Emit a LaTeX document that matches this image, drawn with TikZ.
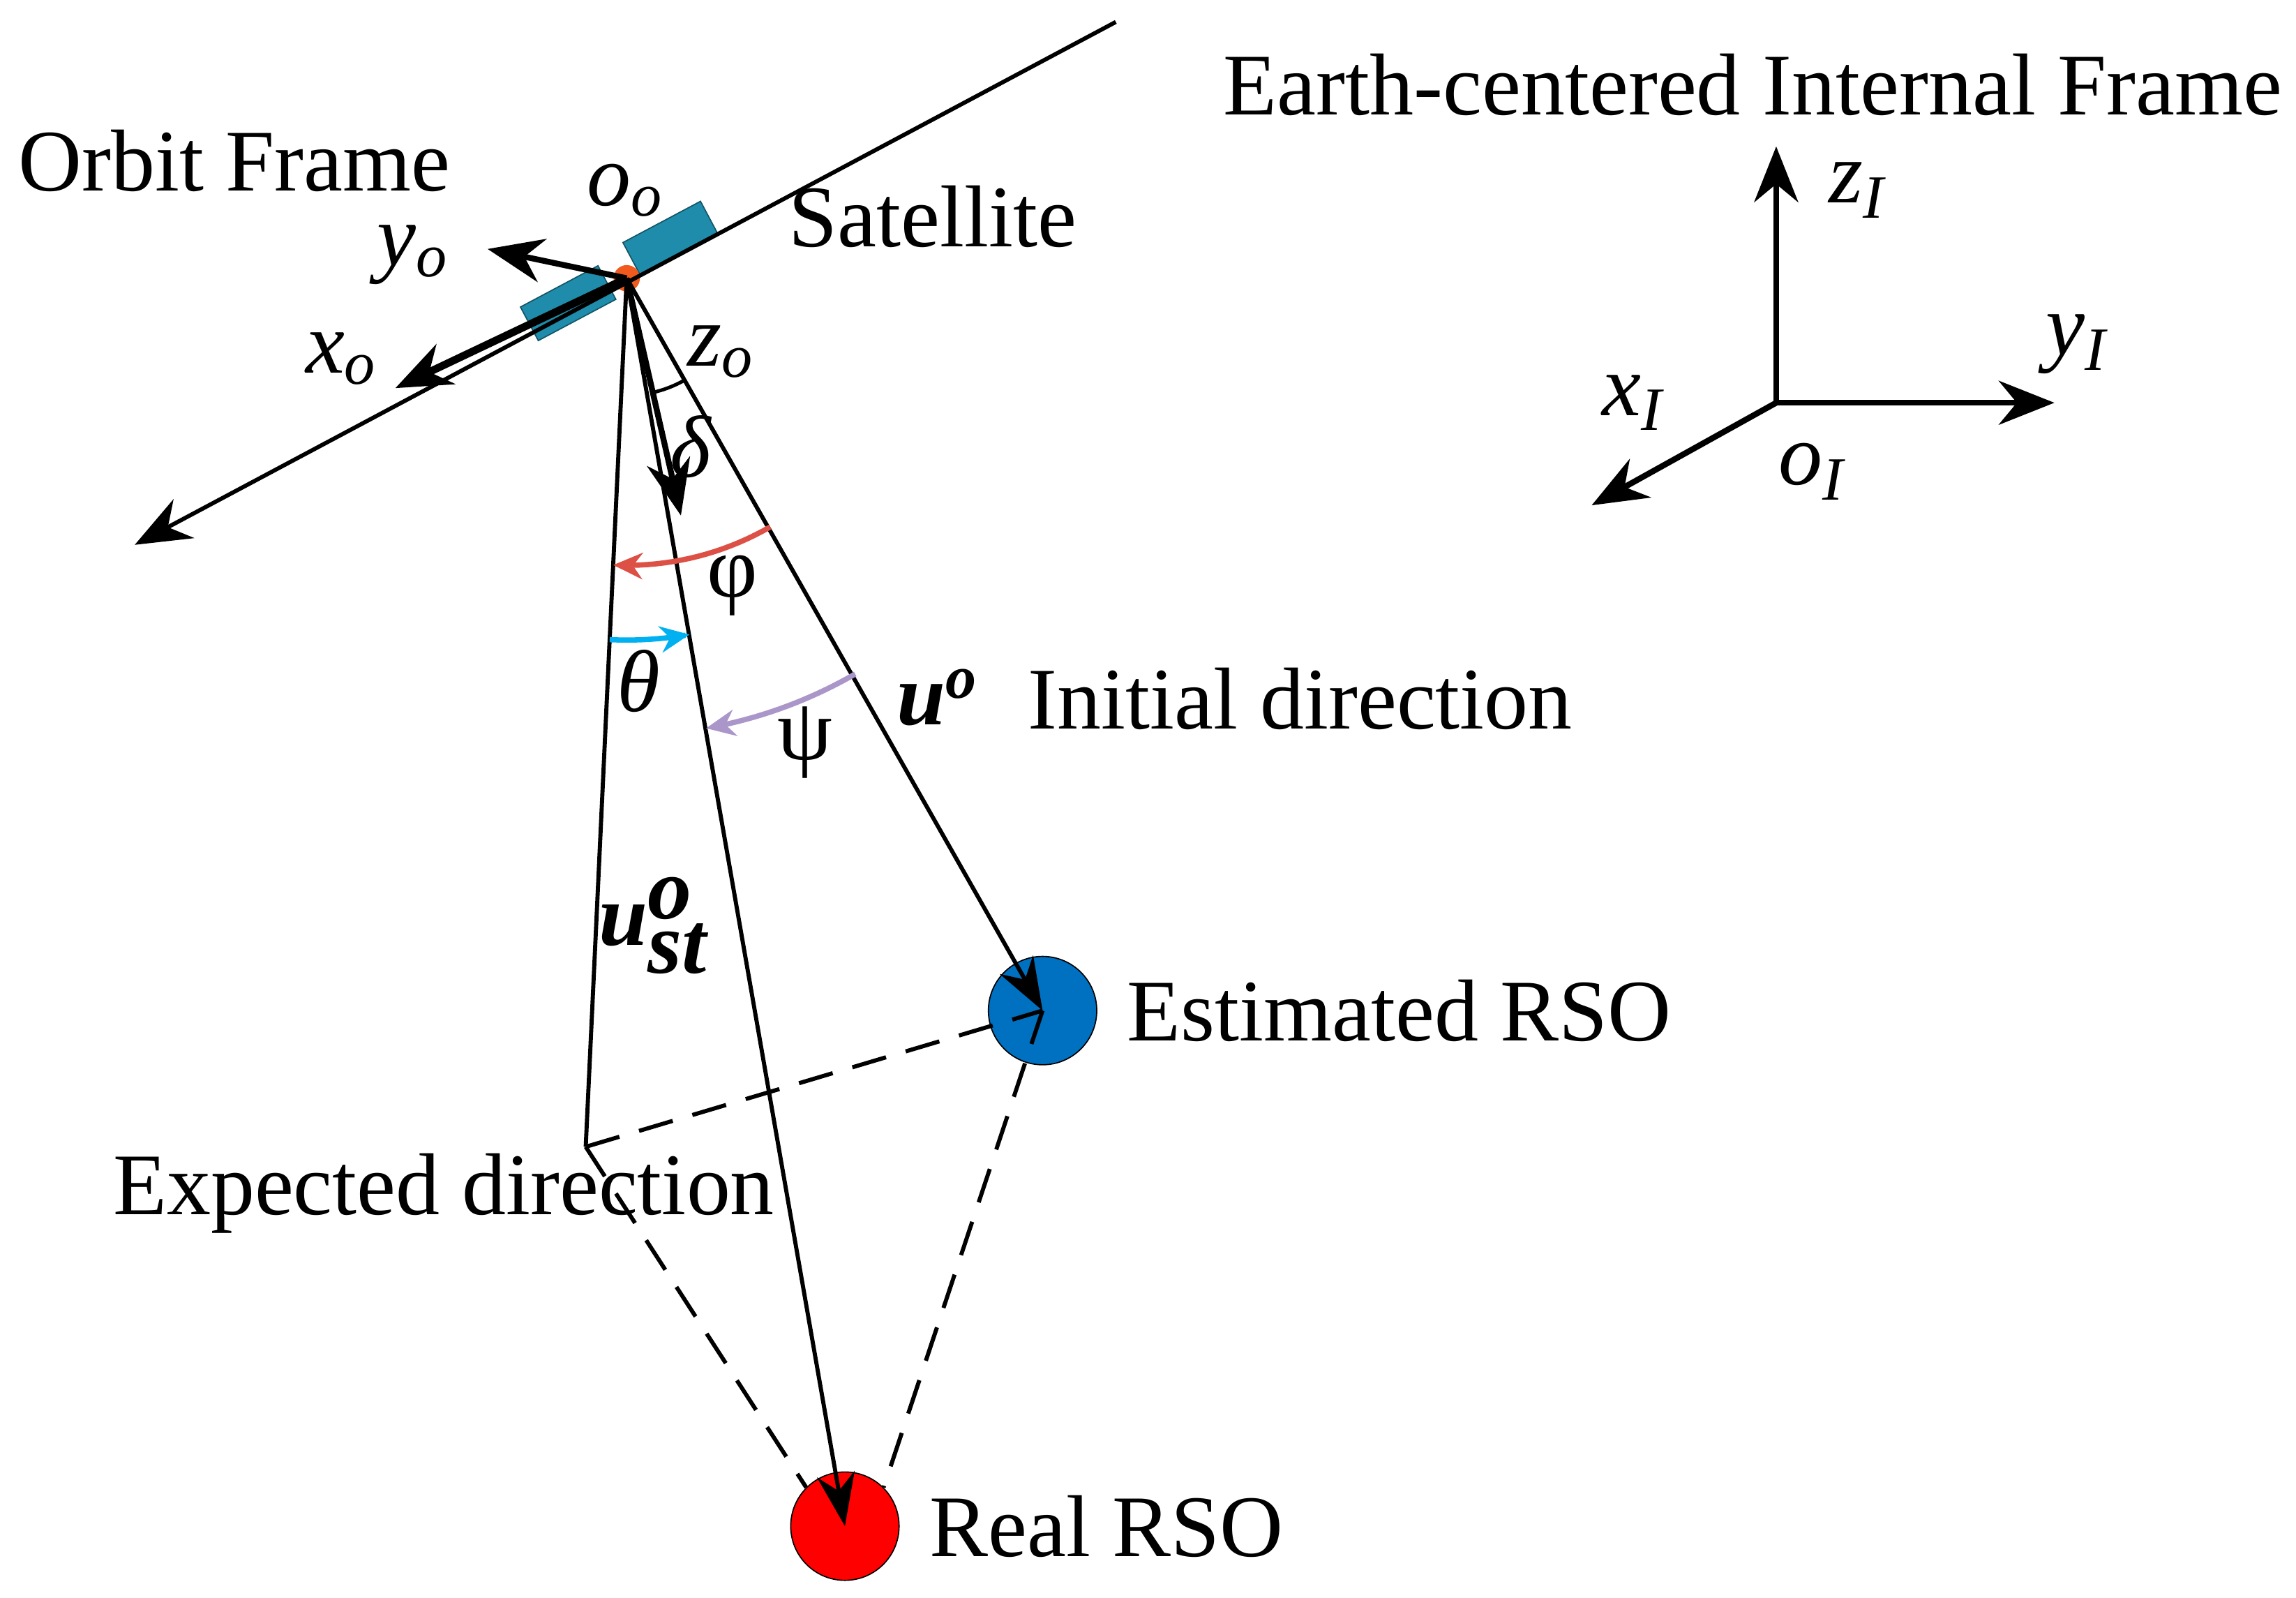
\documentclass[tikz,border=0pt]{standalone}
\usepackage{fontspec}
\setmainfont{Liberation Serif}
\usetikzlibrary{arrows.meta,positioning}
\definecolor{Panel}{RGB}{30,140,170}
\definecolor{Body}{RGB}{240,90,30}
\definecolor{EstBlue}{RGB}{0,112,192}
\definecolor{RealRed}{RGB}{255,0,0}
\definecolor{PhiRed}{RGB}{220,80,70}
\definecolor{ThetaCyan}{RGB}{0,176,240}
\definecolor{PsiPurple}{RGB}{170,150,200}
\newcommand{\bi}[1]{\textbf{\textit{#1}}}
\tikzset{
    txt/.style={font=\fontsize{30}{32}\selectfont, inner sep=0},
    sym/.style={font=\fontsize{30}{32}\selectfont\itshape, inner sep=0},
    axis/.style={draw, line width=2pt, -{Stealth[length=19pt,width=15pt]}},
    ray/.style={draw, line width=1.4pt},
    dashed line/.style={draw, line width=1.4pt, dash pattern=on 12pt off 7pt},
    ang/.style={line width=1.8pt, -{Stealth[length=10pt,width=9pt]}},
    rso/.style={circle, draw=black, thin, minimum size=37pt, inner sep=0}
}
\begin{document}
\begin{tikzpicture}[x=0.5pt,y=-0.5pt]
    \useasboundingbox (0,0) rectangle (1568,1091);
    % satellite
    \coordinate (O) at (428,190);
    \node (panelL)[fill=Panel, draw=Panel!60!black, minimum width=30pt, minimum height=13pt, inner sep=0, rotate=28] at (388,207) {};
    \node (panelR)[fill=Panel, draw=Panel!60!black, minimum width=30pt, minimum height=13pt, inner sep=0, rotate=28] at (458,163) {};
    \node (body)[circle, fill=Body, minimum size=9pt, inner sep=0] at (O) {};

    % orbit line
    \coordinate (orbitA) at (762,15);
    \coordinate (orbitB) at (92,372);
    \draw[axis,line width=1.4pt] (orbitA) -- (orbitB);

    % orbit frame
    \coordinate (xo) at (270,265);
    \coordinate (yo) at (333,170);
    \coordinate (zo) at (465,352);
    \draw[axis,line width=2.6pt] (O) -- (xo);
    \draw[axis] (O) -- (yo);
    \draw[axis] (O) -- (zo);

    % directions
    \node (est)[rso, fill=EstBlue] at (712,690) {};
    \node (real)[rso, fill=RealRed] at (577,1042) {};
    \coordinate (expd) at (400,783);
    \draw[ray,-{Stealth[length=18pt,width=13pt]}] (O) -- (est.center);
    \draw[ray,-{Stealth[length=18pt,width=13pt]}] (O) -- (real.center);
    \draw[ray] (O) -- (expd);
    \draw[dashed line] (expd) -- (est.center);
    \draw[dashed line] (expd) -- (real.north west);
    \draw[dashed line] (est.center) -- (real.north east);

    % angles
    \draw[line width=1.2pt] plot[domain=60:77, samples=10] ({428+80*cos(\x)},{190+80*sin(\x)});
    \draw[ang, PhiRed] plot[domain=60:92.7, samples=20] ({428+196*cos(\x)},{190+196*sin(\x)});
    \draw[ang, ThetaCyan] plot[domain=92.7:80, samples=20] ({428+247*cos(\x)},{190+247*sin(\x)});
    \draw[ang, PsiPurple] plot[domain=60:80, samples=20] ({428+312*cos(\x)},{190+312*sin(\x)});

    % labels
    \node (lorbit)[txt] at (160,110) {Orbit Frame};
    \node (lsat)[txt] at (637,148) {Satellite};
    \node (linit)[txt] at (888,477) {Initial direction};
    \node (lest)[txt, right=10pt of est] {Estimated RSO};
    \node (lreal)[txt, right=10pt of real] {Real RSO};
    \node (lexp)[txt] at (303,815) {Expected direction};
    \node (leci)[txt] at (1197,58) {Earth-centered Internal Frame};
    \node (loo)[sym] at (427,130) {o\textsubscript{o}};
    \node (lxo)[sym] at (233,245) {x\textsubscript{o}};
    \node (lyo)[sym] at (282,174) {y\textsubscript{o}};
    \node (lzo)[sym] at (492,240) {z\textsubscript{o}};
    \node (ldelta)[txt] at (472,305) {\textit{δ}};
    \node (lphi)[txt] at (500,400) {φ};
    \node (ltheta)[txt] at (436,465) {\textit{θ}};
    \node (lpsi)[txt] at (550,507) {ψ};
    \node (luo)[txt] at (640,476) {\bi{u}\textsuperscript{\bi{o}}};
    \node (lust)[txt] at (447,632) {$\bi{u}^{\bi{o}}_{\bi{st}}$};

    % inertial frame
    \coordinate (oI) at (1213,275);
    \coordinate (zI) at (1213,100);
    \coordinate (yI) at (1403,275);
    \coordinate (xI) at (1087,345);
    \draw[axis] (oI) -- (zI);
    \draw[axis] (oI) -- (yI);
    \draw[axis] (oI) -- (xI);
    \node (lzI)[sym] at (1268,130) {z\textsubscript{\textit{I}}};
    \node (lyI)[sym] at (1418,235) {y\textsubscript{\textit{I}}};
    \node (lxI)[sym] at (1115,275) {x\textsubscript{\textit{I}}};
    \node (loI)[sym] at (1237,322) {o\textsubscript{\textit{I}}};
\end{tikzpicture}
\end{document}
